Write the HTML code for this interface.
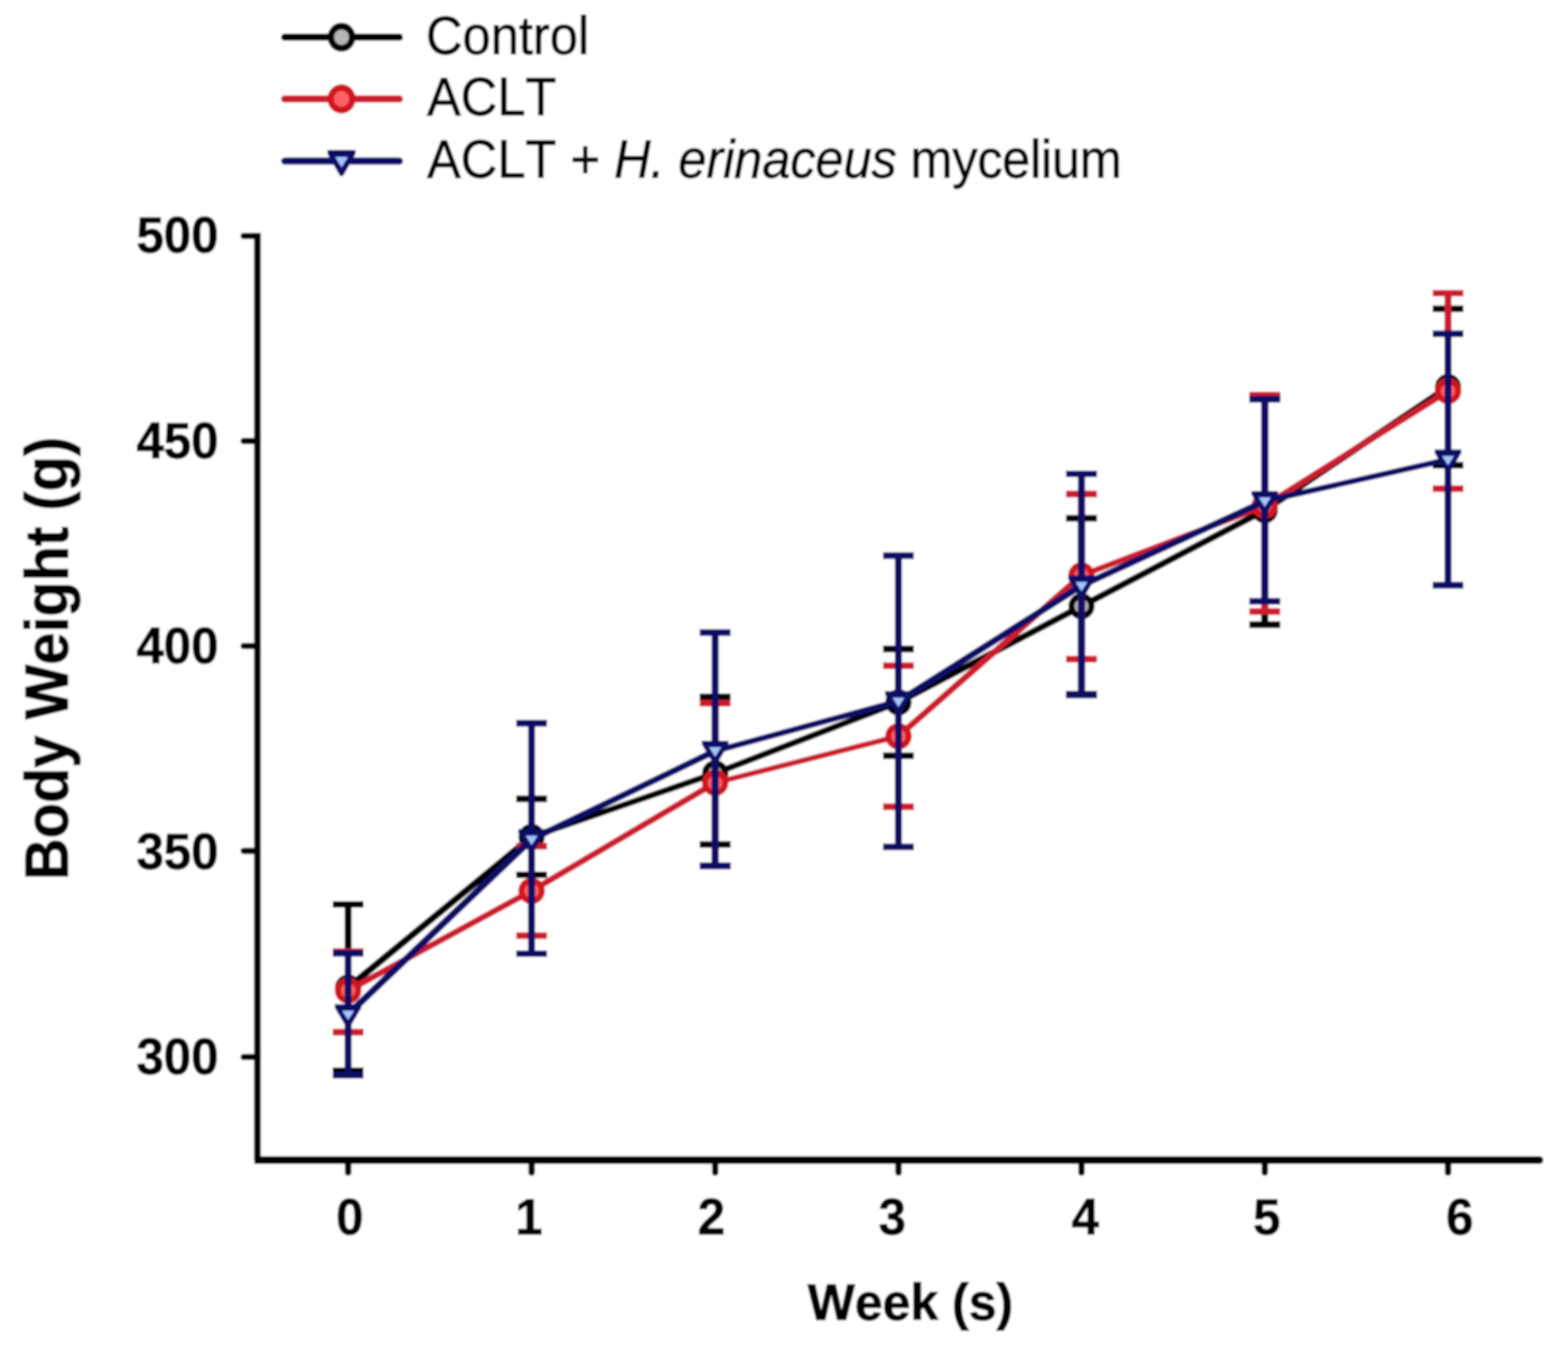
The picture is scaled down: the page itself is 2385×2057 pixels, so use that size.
<!DOCTYPE html>
<html><head><meta charset="utf-8"><title>Body Weight</title>
<style>
html,body{margin:0;padding:0;background:#fff;}
body{width:2385px;height:2057px;overflow:hidden;}
svg{display:block;}
text{font-kerning:none;}
.tl{font-family:"Liberation Sans",Arial,sans-serif;font-weight:bold;font-size:75px;fill:#000;stroke:#000;stroke-width:1.2px;}
.al{font-family:"Liberation Sans",Arial,sans-serif;font-weight:bold;fill:#000;stroke:#000;stroke-width:1.4px;}
.lg{font-family:"Liberation Sans",Arial,sans-serif;font-size:77px;fill:#000;stroke:#000;stroke-width:1.2px;}
</style></head>
<body>
<svg width="2385" height="2057" viewBox="0 0 2385 2057">
<defs><filter id="soft" x="0" y="0" width="1" height="1"><feGaussianBlur stdDeviation="1.6"/></filter></defs>
<rect width="2385" height="2057" fill="#fff"/>
<g filter="url(#soft)">
<rect width="2385" height="2057" fill="#fff"/>
<path d="M391.6,354.5 L391.6,1765.0" fill="none" stroke="#000" stroke-width="10.3"/>
<path d="M386.85,1765.0 L2341.5,1765.0" fill="none" stroke="#000" stroke-width="12"/>
<circle cx="2341.5" cy="1765.0" r="6" fill="#000"/>
<line x1="370.5" y1="1608.3" x2="391.6" y2="1608.3" stroke="#000" stroke-width="9.6" stroke-linecap="round"/>
<text transform="translate(332.5,1634.4) scale(1,1.04)" text-anchor="end" class="tl">300</text>
<line x1="370.5" y1="1294.6" x2="391.6" y2="1294.6" stroke="#000" stroke-width="9.6" stroke-linecap="round"/>
<text transform="translate(332.5,1321.9) scale(1,1.04)" text-anchor="end" class="tl">350</text>
<line x1="370.5" y1="982.8" x2="391.6" y2="982.8" stroke="#000" stroke-width="9.6" stroke-linecap="round"/>
<text transform="translate(332.5,1009.4) scale(1,1.04)" text-anchor="end" class="tl">400</text>
<line x1="370.5" y1="670.9" x2="391.6" y2="670.9" stroke="#000" stroke-width="9.6" stroke-linecap="round"/>
<text transform="translate(332.5,696.9) scale(1,1.04)" text-anchor="end" class="tl">450</text>
<line x1="370.5" y1="359.0" x2="391.6" y2="359.0" stroke="#000" stroke-width="9.6" stroke-linecap="round"/>
<text transform="translate(332.5,384.4) scale(1,1.04)" text-anchor="end" class="tl">500</text>
<line x1="529.5" y1="1765.0" x2="529.5" y2="1784" stroke="#000" stroke-width="9.8" stroke-linecap="round"/>
<text transform="translate(532.2,1877.5) scale(1,1.04)" text-anchor="middle" class="tl">0</text>
<line x1="808.6" y1="1765.0" x2="808.6" y2="1784" stroke="#000" stroke-width="9.8" stroke-linecap="round"/>
<text transform="translate(804.5,1877.5) scale(1,1.04)" text-anchor="middle" class="tl">1</text>
<line x1="1087.8" y1="1765.0" x2="1087.8" y2="1784" stroke="#000" stroke-width="9.8" stroke-linecap="round"/>
<text transform="translate(1082,1877.5) scale(1,1.04)" text-anchor="middle" class="tl">2</text>
<line x1="1366.6" y1="1765.0" x2="1366.6" y2="1784" stroke="#000" stroke-width="9.8" stroke-linecap="round"/>
<text transform="translate(1357.2,1877.5) scale(1,1.04)" text-anchor="middle" class="tl">3</text>
<line x1="1645.0" y1="1765.0" x2="1645.0" y2="1784" stroke="#000" stroke-width="9.8" stroke-linecap="round"/>
<text transform="translate(1650.8,1877.5) scale(1,1.04)" text-anchor="middle" class="tl">4</text>
<line x1="1923.8" y1="1765.0" x2="1923.8" y2="1784" stroke="#000" stroke-width="9.8" stroke-linecap="round"/>
<text transform="translate(1926.8,1877.5) scale(1,1.04)" text-anchor="middle" class="tl">5</text>
<line x1="2202.5" y1="1765.0" x2="2202.5" y2="1784" stroke="#000" stroke-width="9.8" stroke-linecap="round"/>
<text transform="translate(2220.4,1877.5) scale(1,1.04)" text-anchor="middle" class="tl">6</text>
<text transform="translate(1228.5,2007.5) scale(1,1.03)" class="al" style="font-size:76px">Week (s)</text>
<text transform="translate(102.5,1339) rotate(-90) scale(1,1.05)" class="al" style="font-size:88px">Body Weight (g)</text>
<line x1="529.5" y1="1502.6" x2="808.6" y2="1273.2" stroke="#000000" stroke-width="10.56" stroke-linecap="round"/>
<line x1="808.6" y1="1273.2" x2="1087.8" y2="1176.5" stroke="#000000" stroke-width="9.54" stroke-linecap="round"/>
<line x1="1087.8" y1="1176.5" x2="1366.6" y2="1068.5" stroke="#000000" stroke-width="9.70" stroke-linecap="round"/>
<line x1="1366.6" y1="1068.5" x2="1645.0" y2="922.3" stroke="#000000" stroke-width="10.13" stroke-linecap="round"/>
<line x1="1645.0" y1="922.3" x2="1923.8" y2="776.3" stroke="#000000" stroke-width="10.12" stroke-linecap="round"/>
<line x1="1923.8" y1="776.3" x2="2202.5" y2="588.8" stroke="#000000" stroke-width="10.41" stroke-linecap="round"/>
<line x1="529.5" y1="1376.0" x2="529.5" y2="1629.1" stroke="#000000" stroke-width="10.8"/>
<line x1="506.0" y1="1376.0" x2="553.0" y2="1376.0" stroke="#000000" stroke-width="10.2"/>
<line x1="506.0" y1="1629.1" x2="553.0" y2="1629.1" stroke="#000000" stroke-width="10.2"/>
<line x1="808.6" y1="1215.4" x2="808.6" y2="1331.0" stroke="#000000" stroke-width="10.8"/>
<line x1="785.1" y1="1215.4" x2="832.1" y2="1215.4" stroke="#000000" stroke-width="10.2"/>
<line x1="785.1" y1="1331.0" x2="832.1" y2="1331.0" stroke="#000000" stroke-width="10.2"/>
<line x1="1087.8" y1="1060.4" x2="1087.8" y2="1284.8" stroke="#000000" stroke-width="10.8"/>
<line x1="1064.3" y1="1060.4" x2="1111.3" y2="1060.4" stroke="#000000" stroke-width="10.2"/>
<line x1="1064.3" y1="1284.8" x2="1111.3" y2="1284.8" stroke="#000000" stroke-width="10.2"/>
<line x1="1366.6" y1="987.3" x2="1366.6" y2="1149.8" stroke="#000000" stroke-width="10.8"/>
<line x1="1343.1" y1="987.3" x2="1390.1" y2="987.3" stroke="#000000" stroke-width="10.2"/>
<line x1="1343.1" y1="1149.8" x2="1390.1" y2="1149.8" stroke="#000000" stroke-width="10.2"/>
<line x1="1645.0" y1="788.5" x2="1645.0" y2="1056.0" stroke="#000000" stroke-width="10.8"/>
<line x1="1621.5" y1="788.5" x2="1668.5" y2="788.5" stroke="#000000" stroke-width="10.2"/>
<line x1="1621.5" y1="1056.0" x2="1668.5" y2="1056.0" stroke="#000000" stroke-width="10.2"/>
<line x1="1923.8" y1="604.1" x2="1923.8" y2="950.4" stroke="#000000" stroke-width="10.8"/>
<line x1="1900.3" y1="604.1" x2="1947.3" y2="604.1" stroke="#000000" stroke-width="10.2"/>
<line x1="1900.3" y1="950.4" x2="1947.3" y2="950.4" stroke="#000000" stroke-width="10.2"/>
<line x1="2202.5" y1="469.8" x2="2202.5" y2="707.9" stroke="#000000" stroke-width="10.8"/>
<line x1="2179.0" y1="469.8" x2="2226.0" y2="469.8" stroke="#000000" stroke-width="10.2"/>
<line x1="2179.0" y1="707.9" x2="2226.0" y2="707.9" stroke="#000000" stroke-width="10.2"/>
<circle cx="529.5" cy="1502.6" r="15.3" fill="#b4b4b4" stroke="#000" stroke-width="9.4"/>
<circle cx="808.6" cy="1273.2" r="15.3" fill="#b4b4b4" stroke="#000" stroke-width="9.4"/>
<circle cx="1087.8" cy="1176.5" r="15.3" fill="#b4b4b4" stroke="#000" stroke-width="9.4"/>
<circle cx="1366.6" cy="1068.5" r="15.3" fill="#b4b4b4" stroke="#000" stroke-width="9.4"/>
<circle cx="1645.0" cy="922.3" r="15.3" fill="#b4b4b4" stroke="#000" stroke-width="9.4"/>
<circle cx="1923.8" cy="776.3" r="15.3" fill="#b4b4b4" stroke="#000" stroke-width="9.4"/>
<circle cx="2202.5" cy="588.8" r="15.3" fill="#b4b4b4" stroke="#000" stroke-width="9.4"/>
<line x1="529.5" y1="1507.0" x2="808.6" y2="1355.4" stroke="#cc1f2e" stroke-width="9.49" stroke-linecap="round"/>
<line x1="808.6" y1="1355.4" x2="1087.8" y2="1191.0" stroke="#cc1f2e" stroke-width="9.58" stroke-linecap="round"/>
<line x1="1087.8" y1="1191.0" x2="1366.6" y2="1120.1" stroke="#cc1f2e" stroke-width="8.51" stroke-linecap="round"/>
<line x1="1366.6" y1="1120.1" x2="1645.0" y2="875.5" stroke="#cc1f2e" stroke-width="9.88" stroke-linecap="round"/>
<line x1="1645.0" y1="875.5" x2="1923.8" y2="769.5" stroke="#cc1f2e" stroke-width="9.03" stroke-linecap="round"/>
<line x1="1923.8" y1="769.5" x2="2202.5" y2="594.8" stroke="#cc1f2e" stroke-width="9.65" stroke-linecap="round"/>
<line x1="529.5" y1="1447.9" x2="529.5" y2="1570.4" stroke="#cc1f2e" stroke-width="10.8"/>
<line x1="506.0" y1="1447.9" x2="553.0" y2="1447.9" stroke="#cc1f2e" stroke-width="10.2"/>
<line x1="506.0" y1="1570.4" x2="553.0" y2="1570.4" stroke="#cc1f2e" stroke-width="10.2"/>
<line x1="808.6" y1="1287.3" x2="808.6" y2="1423.5" stroke="#cc1f2e" stroke-width="10.8"/>
<line x1="785.1" y1="1287.3" x2="832.1" y2="1287.3" stroke="#cc1f2e" stroke-width="10.2"/>
<line x1="785.1" y1="1423.5" x2="832.1" y2="1423.5" stroke="#cc1f2e" stroke-width="10.2"/>
<line x1="1087.8" y1="1069.8" x2="1087.8" y2="1317.3" stroke="#cc1f2e" stroke-width="10.8"/>
<line x1="1064.3" y1="1069.8" x2="1111.3" y2="1069.8" stroke="#cc1f2e" stroke-width="10.2"/>
<line x1="1064.3" y1="1317.3" x2="1111.3" y2="1317.3" stroke="#cc1f2e" stroke-width="10.2"/>
<line x1="1366.6" y1="1012.9" x2="1366.6" y2="1227.3" stroke="#cc1f2e" stroke-width="10.8"/>
<line x1="1343.1" y1="1012.9" x2="1390.1" y2="1012.9" stroke="#cc1f2e" stroke-width="10.2"/>
<line x1="1343.1" y1="1227.3" x2="1390.1" y2="1227.3" stroke="#cc1f2e" stroke-width="10.2"/>
<line x1="1645.0" y1="751.7" x2="1645.0" y2="1002.9" stroke="#cc1f2e" stroke-width="10.8"/>
<line x1="1621.5" y1="751.7" x2="1668.5" y2="751.7" stroke="#cc1f2e" stroke-width="10.2"/>
<line x1="1621.5" y1="1002.9" x2="1668.5" y2="1002.9" stroke="#cc1f2e" stroke-width="10.2"/>
<line x1="1923.8" y1="601.0" x2="1923.8" y2="930.4" stroke="#cc1f2e" stroke-width="10.8"/>
<line x1="1900.3" y1="601.0" x2="1947.3" y2="601.0" stroke="#cc1f2e" stroke-width="10.2"/>
<line x1="1900.3" y1="930.4" x2="1947.3" y2="930.4" stroke="#cc1f2e" stroke-width="10.2"/>
<line x1="2202.5" y1="446.0" x2="2202.5" y2="743.5" stroke="#cc1f2e" stroke-width="10.8"/>
<line x1="2179.0" y1="446.0" x2="2226.0" y2="446.0" stroke="#cc1f2e" stroke-width="10.2"/>
<line x1="2179.0" y1="743.5" x2="2226.0" y2="743.5" stroke="#cc1f2e" stroke-width="10.2"/>
<circle cx="529.5" cy="1507.0" r="15.5" fill="#ff6066" stroke="#d0141e" stroke-width="9.4"/>
<circle cx="808.6" cy="1355.4" r="15.5" fill="#ff6066" stroke="#d0141e" stroke-width="9.4"/>
<circle cx="1087.8" cy="1191.0" r="15.5" fill="#ff6066" stroke="#d0141e" stroke-width="9.4"/>
<circle cx="1366.6" cy="1120.1" r="15.5" fill="#ff6066" stroke="#d0141e" stroke-width="9.4"/>
<circle cx="1645.0" cy="875.5" r="15.5" fill="#ff6066" stroke="#d0141e" stroke-width="9.4"/>
<circle cx="1923.8" cy="769.5" r="15.5" fill="#ff6066" stroke="#d0141e" stroke-width="9.4"/>
<circle cx="2202.5" cy="594.8" r="15.5" fill="#ff6066" stroke="#d0141e" stroke-width="9.4"/>
<line x1="529.5" y1="1543.2" x2="808.6" y2="1276.9" stroke="#0d0b66" stroke-width="10.60" stroke-linecap="round"/>
<line x1="808.6" y1="1276.9" x2="1087.8" y2="1142.6" stroke="#0d0b66" stroke-width="10.01" stroke-linecap="round"/>
<line x1="1087.8" y1="1142.6" x2="1366.6" y2="1067.0" stroke="#0d0b66" stroke-width="9.20" stroke-linecap="round"/>
<line x1="1366.6" y1="1067.0" x2="1645.0" y2="891.0" stroke="#0d0b66" stroke-width="10.35" stroke-linecap="round"/>
<line x1="1645.0" y1="891.0" x2="1923.8" y2="762.4" stroke="#0d0b66" stroke-width="9.95" stroke-linecap="round"/>
<line x1="1923.8" y1="762.4" x2="2202.5" y2="699.2" stroke="#0d0b66" stroke-width="8.97" stroke-linecap="round"/>
<line x1="529.5" y1="1450.4" x2="529.5" y2="1636.0" stroke="#0d0b66" stroke-width="10.8"/>
<line x1="506.0" y1="1450.4" x2="553.0" y2="1450.4" stroke="#0d0b66" stroke-width="10.2"/>
<line x1="506.0" y1="1636.0" x2="553.0" y2="1636.0" stroke="#0d0b66" stroke-width="10.2"/>
<line x1="808.6" y1="1100.4" x2="808.6" y2="1451.0" stroke="#0d0b66" stroke-width="10.8"/>
<line x1="785.1" y1="1100.4" x2="832.1" y2="1100.4" stroke="#0d0b66" stroke-width="10.2"/>
<line x1="785.1" y1="1451.0" x2="832.1" y2="1451.0" stroke="#0d0b66" stroke-width="10.2"/>
<line x1="1087.8" y1="962.3" x2="1087.8" y2="1317.3" stroke="#0d0b66" stroke-width="10.8"/>
<line x1="1064.3" y1="962.3" x2="1111.3" y2="962.3" stroke="#0d0b66" stroke-width="10.2"/>
<line x1="1064.3" y1="1317.3" x2="1111.3" y2="1317.3" stroke="#0d0b66" stroke-width="10.2"/>
<line x1="1366.6" y1="845.4" x2="1366.6" y2="1288.5" stroke="#0d0b66" stroke-width="10.8"/>
<line x1="1343.1" y1="845.4" x2="1390.1" y2="845.4" stroke="#0d0b66" stroke-width="10.2"/>
<line x1="1343.1" y1="1288.5" x2="1390.1" y2="1288.5" stroke="#0d0b66" stroke-width="10.2"/>
<line x1="1645.0" y1="721.0" x2="1645.0" y2="1057.3" stroke="#0d0b66" stroke-width="10.8"/>
<line x1="1621.5" y1="721.0" x2="1668.5" y2="721.0" stroke="#0d0b66" stroke-width="10.2"/>
<line x1="1621.5" y1="1057.3" x2="1668.5" y2="1057.3" stroke="#0d0b66" stroke-width="10.2"/>
<line x1="1923.8" y1="607.3" x2="1923.8" y2="914.8" stroke="#0d0b66" stroke-width="10.8"/>
<line x1="1900.3" y1="607.3" x2="1947.3" y2="607.3" stroke="#0d0b66" stroke-width="10.2"/>
<line x1="1900.3" y1="914.8" x2="1947.3" y2="914.8" stroke="#0d0b66" stroke-width="10.2"/>
<line x1="2202.5" y1="507.9" x2="2202.5" y2="890.4" stroke="#0d0b66" stroke-width="10.8"/>
<line x1="2179.0" y1="507.9" x2="2226.0" y2="507.9" stroke="#0d0b66" stroke-width="10.2"/>
<line x1="2179.0" y1="890.4" x2="2226.0" y2="890.4" stroke="#0d0b66" stroke-width="10.2"/>
<polygon points="509.2,1527.7 549.8,1527.7 549.8,1533.2 531.7,1564.0 527.3,1564.0 509.2,1533.2" fill="#0d0b66"/><polygon points="520.6,1537.7 538.4,1537.7 529.5,1551.8" fill="#a4c4ff"/>
<polygon points="788.3,1261.4 828.9,1261.4 828.9,1266.9 810.8,1297.7 806.4,1297.7 788.3,1266.9" fill="#0d0b66"/><polygon points="799.7,1271.4 817.5,1271.4 808.6,1285.5" fill="#a4c4ff"/>
<polygon points="1067.5,1127.1 1108.1,1127.1 1108.1,1132.6 1090.0,1163.4 1085.6,1163.4 1067.5,1132.6" fill="#0d0b66"/><polygon points="1078.9,1137.1 1096.7,1137.1 1087.8,1151.2" fill="#a4c4ff"/>
<polygon points="1346.3,1051.5 1386.9,1051.5 1386.9,1057.0 1368.8,1087.8 1364.4,1087.8 1346.3,1057.0" fill="#0d0b66"/><polygon points="1357.7,1061.5 1375.5,1061.5 1366.6,1075.6" fill="#a4c4ff"/>
<polygon points="1624.7,875.5 1665.3,875.5 1665.3,881.0 1647.2,911.8 1642.8,911.8 1624.7,881.0" fill="#0d0b66"/><polygon points="1636.1,885.5 1653.9,885.5 1645.0,899.6" fill="#a4c4ff"/>
<polygon points="1903.5,746.9 1944.1,746.9 1944.1,752.4 1926.0,783.2 1921.6,783.2 1903.5,752.4" fill="#0d0b66"/><polygon points="1914.9,756.9 1932.7,756.9 1923.8,771.0" fill="#a4c4ff"/>
<polygon points="2182.2,683.7 2222.8,683.7 2222.8,689.2 2204.7,720.0 2200.3,720.0 2182.2,689.2" fill="#0d0b66"/><polygon points="2193.6,693.7 2211.4,693.7 2202.5,707.8" fill="#a4c4ff"/>
<line x1="433" y1="56.6" x2="607.5" y2="56.6" stroke="#000000" stroke-width="11" stroke-linecap="round"/>
<g transform="translate(519.5,56.6) scale(1.06,1.1) translate(-519.5,-56.6)"><circle cx="519.5" cy="56.6" r="15.3" fill="#b4b4b4" stroke="#000" stroke-width="9.4"/></g>
<line x1="433" y1="150.5" x2="607.5" y2="150.5" stroke="#cc1f2e" stroke-width="11" stroke-linecap="round"/>
<g transform="translate(519.5,150.5) scale(1.06,1.1) translate(-519.5,-150.5)"><circle cx="519.5" cy="150.5" r="15.5" fill="#ff6066" stroke="#d0141e" stroke-width="9.4"/></g>
<line x1="433" y1="245.1" x2="607.5" y2="245.1" stroke="#0d0b66" stroke-width="11" stroke-linecap="round"/>
<g transform="translate(519.5,245.1) scale(1.06,1.1) translate(-519.5,-245.1)"><polygon points="499.2,229.6 539.8,229.6 539.8,235.1 521.7,265.9 517.3,265.9 499.2,235.1" fill="#0d0b66"/><polygon points="510.6,239.6 528.4,239.6 519.5,253.7" fill="#a4c4ff"/></g>
<text transform="translate(648,82.3) scale(1,1.05)" class="lg">Control</text>
<text transform="translate(649.5,175.3) scale(1,1.05)" class="lg">ACLT</text>
<text transform="translate(649.5,269.5) scale(1,1.05)" class="lg">ACLT + <tspan font-style="italic" letter-spacing="-0.2">H. erinaceus</tspan><tspan letter-spacing="-0.5"> mycelium</tspan></text>
</g>
</svg>
</body></html>
